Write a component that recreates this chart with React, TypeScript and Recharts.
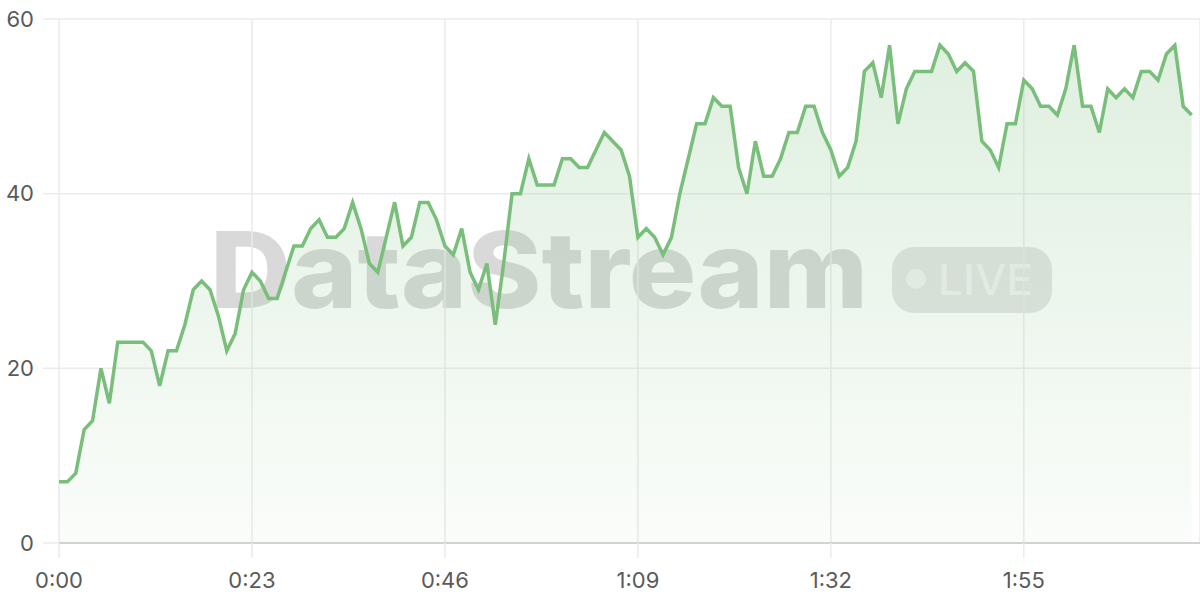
import React from 'react';
import { AreaChart, Area, XAxis, YAxis, CartesianGrid } from 'recharts';

// Value sampled once per second (second index = array position)
const values: number[] = [
  7, 7, 8, 13, 14, 20, 16, 23, 23, 23,
  23, 22, 18, 22, 22, 25, 29, 30, 29, 26,
  22, 24, 29, 31, 30, 28, 28, 31, 34, 34,
  36, 37, 35, 35, 36, 39, 36, 32, 31, 35,
  39, 34, 35, 39, 39, 37, 34, 33, 36, 31,
  29, 32, 25, 32, 40, 40, 44, 41, 41, 41,
  44, 44, 43, 43, 45, 47, 46, 45, 42, 35,
  36, 35, 33, 35, 40, 44, 48, 48, 51, 50,
  50, 43, 40, 46, 42, 42, 44, 47, 47, 50,
  50, 47, 45, 42, 43, 46, 54, 55, 51, 57,
  48, 52, 54, 54, 54, 57, 56, 54, 55, 54,
  46, 45, 43, 48, 48, 53, 52, 50, 50, 49,
  52, 57, 50, 50, 47, 52, 51, 52, 51, 54,
  54, 53, 56, 57, 50, 49,
];

const xTicks: number[] = [0, 23, 46, 69, 92, 115];
const xTickLabels: string[] = ['0:00', '0:23', '0:46', '1:09', '1:32', '1:55'];
const yTicks: number[] = [0, 20, 40, 60];

const data = values.map((v, i) => ({ t: i, v }));

const FONT = 'Inter, "Noto Sans", "Liberation Sans", sans-serif';
const GRID = '#ebebeb';
const LINE = '#79be7b';

function Watermark() {
  return (
    <svg width={1200} height={600} style={{ position: 'absolute', left: 0, top: 0 }}>
      <text
        x={210}
        y={308}
        fontFamily={FONT}
        fontWeight={800}
        fontSize={106}
        textLength={658}
        lengthAdjust="spacingAndGlyphs"
        fill="rgba(0,0,0,0.15)"
      >
        DataStream
      </text>
      <rect x={892} y={247} width={160} height={66} rx={22} ry={22} fill="rgba(0,0,0,0.1)" />
      <circle cx={916} cy={279} r={10} fill="rgba(255,255,255,0.5)" />
      <text
        x={938}
        y={295}
        fontFamily={FONT}
        fontWeight={500}
        fontSize={43}
        textLength={95}
        lengthAdjust="spacingAndGlyphs"
        fill="rgba(255,255,255,0.5)"
      >
        LIVE
      </text>
    </svg>
  );
}

export default function App() {
  return (
    <div style={{ position: 'absolute', left: 0, top: 0, width: 1200, height: 600, background: '#fff' }}>
      <Watermark />
      <div style={{ position: 'absolute', left: 0, top: 0 }}>
        <AreaChart width={1200} height={600} data={data} margin={{ top: 19, right: 0, bottom: 0, left: 0 }}>
          <defs>
            <linearGradient id="fillGrad" x1="0" y1="0" x2="0" y2="1">
              <stop offset="0%" stopColor={LINE} stopOpacity={0.4} />
              <stop offset="100%" stopColor={LINE} stopOpacity={0.06} />
            </linearGradient>
          </defs>
          <CartesianGrid stroke={GRID} strokeWidth={1.5} />
          <XAxis
            dataKey="t"
            type="number"
            domain={[0, 136]}
            ticks={xTicks}
            tickFormatter={(t: number) => xTickLabels[xTicks.indexOf(t)] ?? ''}
            axisLine={{ stroke: '#d2d2d2', strokeWidth: 2 }}
            tickLine={{ stroke: GRID, strokeWidth: 1.5 }}
            tickSize={15}
            tickMargin={14}
            height={57}
            tick={{ fill: '#5a5a5a', fontSize: 22, fontFamily: FONT }}
            interval={0}
          />
          <YAxis
            domain={[0, 60]}
            ticks={yTicks}
            axisLine={false}
            tickLine={{ stroke: GRID, strokeWidth: 1.5 }}
            tickSize={16}
            tickMargin={9}
            width={59}
            tick={{ fill: '#5a5a5a', fontSize: 22, fontFamily: FONT }}
            interval={0}
          />
          <Area
            type="linear"
            dataKey="v"
            stroke={LINE}
            strokeWidth={3.5}
            fill="url(#fillGrad)"
            dot={false}
            activeDot={false}
            isAnimationActive={false}
          />
        </AreaChart>
      </div>
    </div>
  );
}
